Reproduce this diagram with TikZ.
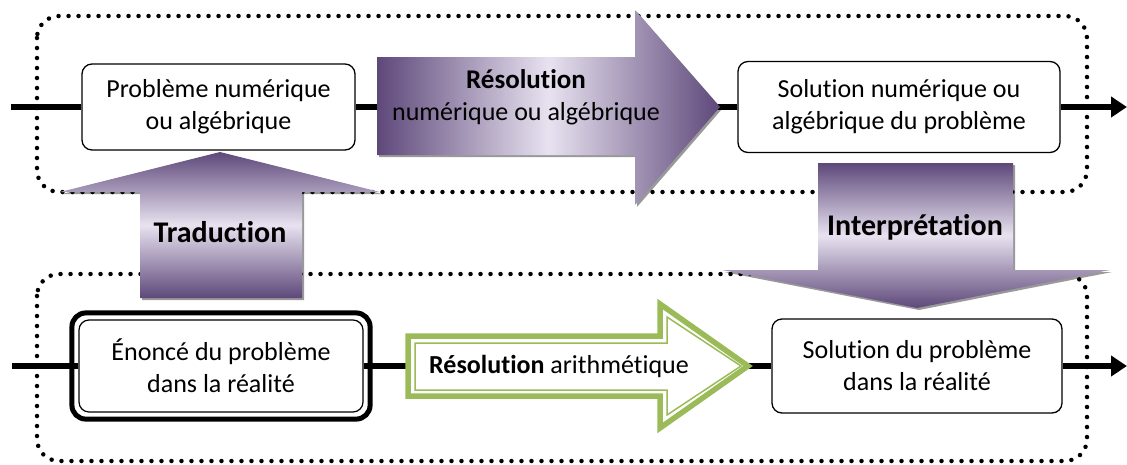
\documentclass[tikz,border=0pt]{standalone}
\usepackage{fontspec}
\setmainfont{Carlito}[Ligatures=NoCommon]
\usepackage{tikz}
\usetikzlibrary{arrows.meta,shadows,calc}
\definecolor{pdark}{RGB}{94,72,122}
\definecolor{plight}{RGB}{232,226,240}
\definecolor{vert}{RGB}{155,187,89}

\begin{document}
\begin{tikzpicture}[x=1pt,y=-1pt,
  every node/.style={font=\fontsize{26}{32}\selectfont, text=black},
  boite/.style={draw, line width=1.3pt, rounded corners=10pt, fill=white, align=center, inner sep=0pt},
  ligne/.style={line width=6pt},
  cadre/.style={line width=4.5pt, line cap=round, dash pattern=on 0pt off 10pt, rounded corners=22pt},
  grosse/.style={drop shadow={shadow xshift=2pt,shadow yshift=-2pt,fill=black,opacity=.4}},
  titre/.style={font=\fontsize{30}{36}\selectfont\bfseries}]

\useasboundingbox (0,0) rectangle (1127,464);

\draw[cadre] (37,16) rectangle (1087,192);
\draw[cadre] (37,274) rectangle (1087,461);

\node[boite, minimum width=273pt, minimum height=86pt] (prob) at (218.5,107) {Problème numérique\\ou algébrique};
\node[boite, minimum width=322pt, minimum height=91pt] (solnum) at (899,107) {Solution numérique ou\\algébrique du problème};
\node[boite, minimum width=284pt, minimum height=92pt, line width=1.2pt] (enonce) at (221,366) {Énoncé du problème\\dans la réalité};
\node[boite, minimum width=290pt, minimum height=94pt] (solreel) at (917,366) {Solution du problème\\dans la réalité};

\coordinate (hg) at (11,107);
\coordinate (hd) at (1127,107);
\coordinate (bg) at (12,366);
\coordinate (bd) at (1127,366);
\draw[ligne] (hg) -- (prob);
\draw[ligne] (prob) -- (solnum);
\draw[ligne,-{Triangle[length=16pt,width=20pt]}] (solnum) -- (hd);
\draw[ligne] (bg) -- (enonce);
\draw[ligne] (enonce) -- (solreel);
\draw[ligne,-{Triangle[length=16pt,width=20pt]}] (solreel) -- (bd);

\draw[line width=5pt, rounded corners=14pt] ($(enonce.north west)+(-6.5,-6.5)$) rectangle ($(enonce.south east)+(6.5,6.5)$);

\path[grosse, left color=pdark, right color=pdark, middle color=plight]
  (377,57) -- (635,57) -- (635,10) -- (720,107) -- (635,205) -- (635,155) -- (377,155) -- cycle;
\node[align=center] (resol) at (526,97) {{\fontsize{27}{32}\selectfont\bfseries Résolution}\\numérique ou algébrique};

\path[grosse, top color=pdark, bottom color=pdark, middle color=plight]
  (220,152) -- (380,192) -- (302,192) -- (302,298) -- (140,298) -- (140,192) -- (60,192) -- cycle;
\node[titre] (trad) at (220,232) {Traduction};

\path[grosse, top color=pdark, bottom color=pdark, middle color=plight]
  (818,163) -- (1013,163) -- (1013,270) -- (1110,270) -- (917,308) -- (722,270) -- (818,270) -- cycle;
\node[titre] (interp) at (915,227) {Interprétation};

\draw[vert, line width=5.5pt, fill=white]
  (408,336) -- (660,336) -- (660,304) -- (748,366) -- (660,428) -- (660,396) -- (408,396) -- cycle;
\draw[vert, line width=1.5pt]
  (415,343) -- (667,343) -- (667,317) -- (741,366) -- (667,415) -- (667,390) -- (415,390) -- cycle;
\node (arith) at (559,366) {\textbf{Résolution} arithmétique};
\end{tikzpicture}
\end{document}
